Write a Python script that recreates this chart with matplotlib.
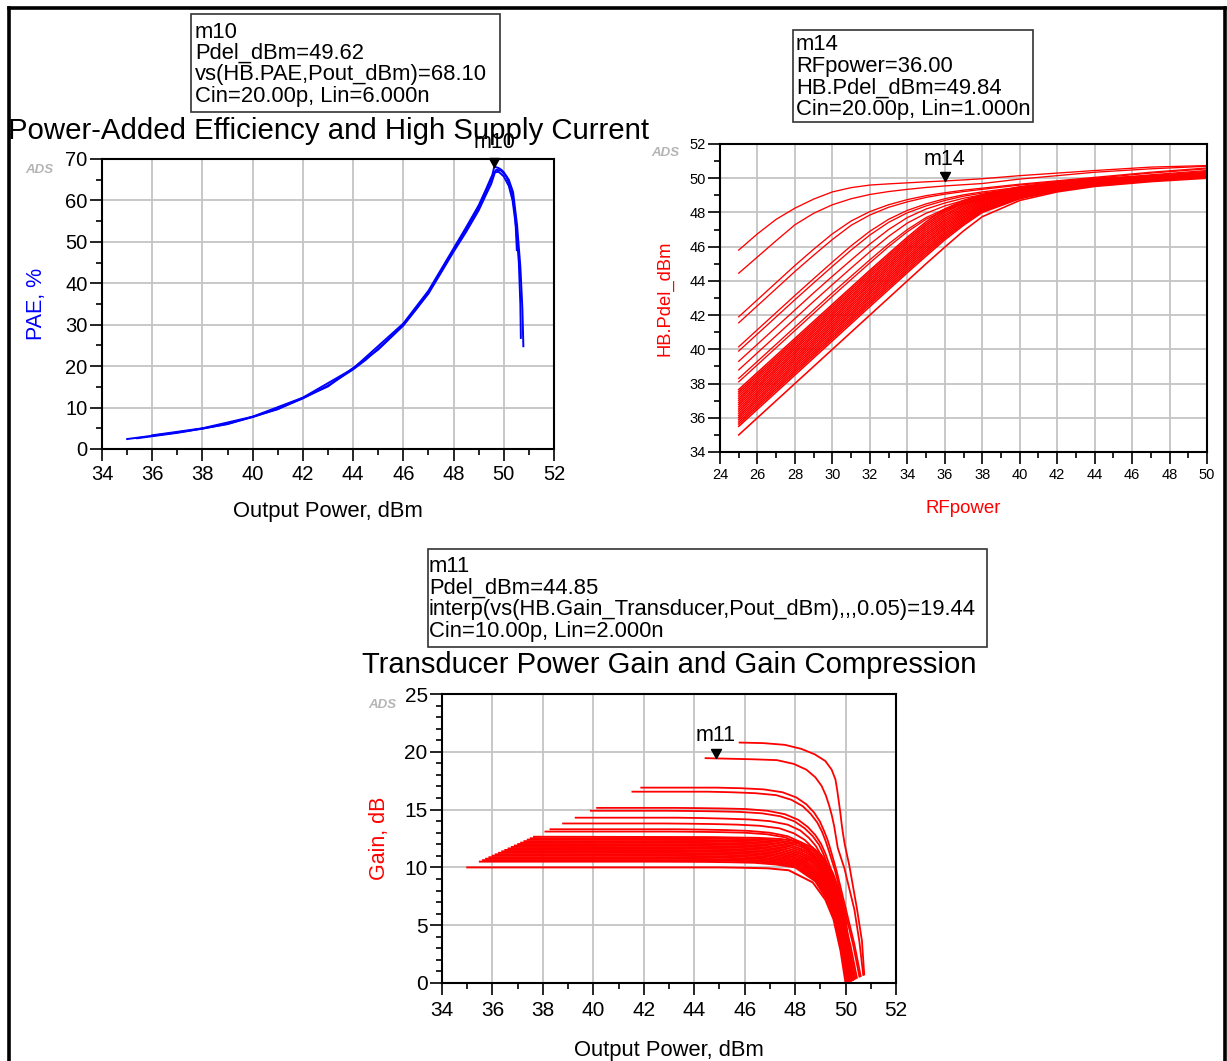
import matplotlib
matplotlib.use("Agg")
import matplotlib.pyplot as plt
from matplotlib.lines import Line2D
from matplotlib.patches import Rectangle
from matplotlib.ticker import MultipleLocator

plt.rcParams['font.family'] = ['Liberation Sans', 'DejaVu Sans']

W, H, DPI = 1227, 1061, 100

# ---------------- PAE vs output power (overlapping sweeps) ----------------
pae_pout_a = [35.0, 36.0, 37.0, 38.0, 39.0, 40.0, 41.0, 42.0, 43.0, 44.0, 44.5, 45.0, 45.5, 46.0,
              46.5, 47.0, 47.5, 48.0, 48.25, 48.5, 48.75, 49.0, 49.3, 49.5, 49.62, 49.7, 49.8,
              49.9, 50.0, 50.2, 50.37, 50.53, 50.66, 50.74, 50.78]
pae_a = [2.4, 3.2, 4.0, 4.9, 6.1, 7.7, 9.7, 12.2, 15.3, 19.2, 21.5, 24.2, 27.0, 30.0,
         33.7, 37.8, 42.8, 48.0, 50.5, 53.0, 55.7, 58.3, 62.3, 65.0, 68.1, 68.0, 67.8,
         67.4, 66.8, 65.0, 62.0, 54.0, 44.0, 34.0, 24.8]

pae_pout_b = [35.4, 37.0, 39.0, 41.0, 43.0, 45.0, 46.0, 47.0, 48.0, 48.5, 49.0, 49.3, 49.5,
              49.65, 49.8, 50.0, 50.2, 50.35, 50.5, 50.6, 50.66, 50.68]
pae_b = [2.6, 3.9, 6.0, 9.6, 15.1, 24.0, 29.8, 37.5, 47.6, 52.4, 57.6, 61.5, 64.0,
         66.8, 66.9, 65.8, 63.5, 60.0, 53.0, 45.0, 35.0, 26.8]

pae_pout_c = [36.0, 38.0, 40.0, 42.0, 44.0, 46.0, 47.0, 48.0, 48.5, 49.0, 49.3, 49.5, 49.7,
              49.9, 50.1, 50.3, 50.45, 50.52]
pae_c = [3.3, 5.0, 7.8, 12.4, 19.4, 30.3, 38.2, 48.4, 53.5, 58.8, 62.8, 65.6, 67.4,
         67.2, 65.8, 62.8, 57.0, 48.0]

# ---------------- Delivered power vs RF input power ----------------
rf_upper = [25, 26, 27, 28, 29, 30, 31, 32, 33, 34, 35, 36, 37, 38, 40, 42, 44, 47, 50]
pdel_upper = [
    [45.80, 46.75, 47.60, 48.25, 48.78, 49.20, 49.45, 49.60, 49.67, 49.73, 49.79, 49.84, 49.90, 49.97, 50.15, 50.30, 50.45, 50.65, 50.74],
    [44.45, 45.40, 46.35, 47.28, 47.95, 48.45, 48.80, 49.05, 49.22, 49.35, 49.46, 49.55, 49.62, 49.69, 49.95, 50.15, 50.35, 50.55, 50.70],
    [41.90, 42.90, 43.90, 44.90, 45.85, 46.75, 47.50, 48.05, 48.45, 48.75, 48.98, 49.15, 49.30, 49.42, 49.65, 49.85, 50.05, 50.35, 50.60],
    [41.55, 42.55, 43.55, 44.55, 45.50, 46.42, 47.25, 47.85, 48.30, 48.62, 48.88, 49.07, 49.22, 49.35, 49.60, 49.80, 50.00, 50.30, 50.55],
    [40.15, 41.15, 42.15, 43.15, 44.13, 45.10, 46.05, 46.90, 47.60, 48.12, 48.50, 48.80, 49.03, 49.20, 49.48, 49.70, 49.90, 50.20, 50.45],
    [39.90, 40.90, 41.90, 42.90, 43.88, 44.85, 45.80, 46.68, 47.42, 47.98, 48.38, 48.70, 48.95, 49.13, 49.42, 49.65, 49.85, 50.15, 50.40],
    [39.30, 40.30, 41.30, 42.30, 43.30, 44.27, 45.22, 46.15, 47.00, 47.70, 48.20, 48.55, 48.83, 49.03, 49.35, 49.60, 49.80, 50.10, 50.35],
    [38.80, 39.80, 40.80, 41.80, 42.80, 43.78, 44.75, 45.70, 46.60, 47.38, 47.95, 48.38, 48.70, 48.93, 49.28, 49.55, 49.77, 50.07, 50.33],
    [38.30, 39.30, 40.30, 41.30, 42.30, 43.30, 44.27, 45.23, 46.16, 47.00, 47.70, 48.20, 48.57, 48.83, 49.22, 49.50, 49.73, 50.03, 50.30],
    [38.10, 39.10, 40.10, 41.10, 42.10, 43.10, 44.08, 45.05, 46.00, 46.87, 47.60, 48.12, 48.50, 48.78, 49.18, 49.47, 49.70, 50.00, 50.28],
]

rf_band = [25, 32, 34, 35, 36, 37, 38, 40, 42, 44, 47, 50]
pdel_band = [
    [37.65, 44.62, 46.55, 47.45, 48.20, 48.70, 49.05, 49.50, 49.78, 49.97, 50.15, 50.30],
    [37.52, 44.50, 46.43, 47.33, 48.09, 48.62, 48.99, 49.46, 49.75, 49.95, 50.13, 50.29],
    [37.40, 44.37, 46.31, 47.22, 47.99, 48.53, 48.93, 49.42, 49.72, 49.92, 50.11, 50.27],
    [37.27, 44.25, 46.19, 47.10, 47.88, 48.44, 48.86, 49.38, 49.69, 49.90, 50.10, 50.26],
    [37.14, 44.12, 46.06, 46.98, 47.78, 48.36, 48.80, 49.34, 49.66, 49.87, 50.08, 50.24],
    [37.02, 44.00, 45.94, 46.86, 47.67, 48.27, 48.74, 49.29, 49.62, 49.85, 50.06, 50.23],
    [36.89, 43.87, 45.82, 46.74, 47.56, 48.19, 48.68, 49.25, 49.59, 49.82, 50.04, 50.21],
    [36.77, 43.75, 45.70, 46.63, 47.46, 48.10, 48.62, 49.21, 49.56, 49.80, 50.03, 50.20],
    [36.64, 43.62, 45.58, 46.51, 47.35, 48.02, 48.56, 49.17, 49.53, 49.77, 50.01, 50.18],
    [36.51, 43.50, 45.45, 46.39, 47.25, 47.93, 48.49, 49.13, 49.50, 49.75, 49.99, 50.17],
    [36.39, 43.37, 45.33, 46.27, 47.14, 47.85, 48.43, 49.09, 49.47, 49.72, 49.97, 50.15],
    [36.26, 43.25, 45.21, 46.16, 47.04, 47.76, 48.37, 49.05, 49.44, 49.70, 49.96, 50.14],
    [36.13, 43.12, 45.09, 46.04, 46.93, 47.68, 48.31, 49.01, 49.41, 49.67, 49.94, 50.12],
    [36.01, 43.00, 44.97, 45.92, 46.82, 47.59, 48.25, 48.97, 49.38, 49.65, 49.92, 50.11],
    [35.88, 42.87, 44.85, 45.80, 46.72, 47.51, 48.19, 48.92, 49.34, 49.62, 49.90, 50.09],
    [35.75, 42.75, 44.72, 45.69, 46.61, 47.42, 48.12, 48.88, 49.31, 49.60, 49.89, 50.08],
    [35.63, 42.63, 44.60, 45.57, 46.51, 47.34, 48.06, 48.84, 49.28, 49.57, 49.87, 50.06],
    [35.50, 42.50, 44.48, 45.45, 46.40, 47.25, 48.00, 48.80, 49.25, 49.55, 49.85, 50.05],
    [35.00, 42.00, 44.00, 45.00, 45.97, 46.92, 47.75, 48.70, 49.20, 49.52, 49.80, 50.00],
]

# marker readouts
m10_pout, m10_pae = 49.62, 68.10
m14_rf, m14_pdel = 36.00, 49.84
m11_pout, m11_gain = 44.85, 19.44

pae_xticks = [34, 36, 38, 40, 42, 44, 46, 48, 50, 52]
pae_yticks = [0, 10, 20, 30, 40, 50, 60, 70]
rf_xticks = [24, 26, 28, 30, 32, 34, 36, 38, 40, 42, 44, 46, 48, 50]
pdel_yticks = [34, 36, 38, 40, 42, 44, 46, 48, 50, 52]
gain_xticks = [34, 36, 38, 40, 42, 44, 46, 48, 50, 52]
gain_yticks = [0, 5, 10, 15, 20, 25]

RED = '#ff0000'
BLUE = '#0000ff'
GRID = '#c4c4c4'
ANN_FS = 15.8


def fx(px):
    return px / W


def fy(py):
    return 1.0 - py / H


def make_axes(fig, x0, y0, x1, y1):
    return fig.add_axes([fx(x0), fy(y1), (x1 - x0) / W, (y1 - y0) / H])


def style_axes(ax, xlim, ylim, xticks, yticks, xminor, yminor, fs, xpad, ypad):
    ax.set_xlim(*xlim)
    ax.set_ylim(*ylim)
    ax.set_xticks(xticks)
    ax.set_yticks(yticks)
    ax.xaxis.set_minor_locator(MultipleLocator(xminor))
    ax.yaxis.set_minor_locator(MultipleLocator(yminor))
    ax.grid(True, which='major', color=GRID, lw=1.3)
    ax.set_axisbelow(True)
    for s in ax.spines.values():
        s.set_color('black')
        s.set_linewidth(1.5)
        s.set_zorder(4)
    ax.tick_params(which='major', direction='out', length=8.8, width=1.2,
                   labelsize=fs, top=False, right=False)
    ax.tick_params(which='minor', direction='out', length=4.6, width=1.2,
                   top=False, right=False)
    ax.tick_params(axis='x', which='major', pad=xpad)
    ax.tick_params(axis='y', which='major', pad=ypad)


TRI = [(-0.55, 1.0), (0.55, 1.0), (0.0, 0.0), (-0.55, 1.0)]


def marker(ax, x, y, name, dy):
    ax.plot([x], [y], marker=TRI, ms=13, color='black', clip_on=False, zorder=6)
    ax.annotate(name, (x, y), xytext=(0, dy), textcoords='offset points',
                ha='center', va='center', fontsize=15.5, zorder=6,
                annotation_clip=False)


def readout(fig, x0, y0, x1, y1, tx, lines, ys):
    fig.add_artist(Rectangle((fx(x0), fy(y1)), (x1 - x0) / W, (y1 - y0) / H,
                             transform=fig.transFigure, fill=False,
                             edgecolor='#333333', lw=1.2))
    for t, yy in zip(lines, ys):
        fig.text(fx(tx), fy(yy), t, ha='left', va='center', fontsize=ANN_FS)


fig = plt.figure(figsize=(W / DPI, H / DPI), dpi=DPI)
fig.patch.set_facecolor('white')

# ---------------- PAE panel ----------------
ax1 = make_axes(fig, 102, 159, 554, 449)
style_axes(ax1, (34, 52), (0, 70), pae_xticks, pae_yticks, 1, 5, 14.5, 3.0, 1.5)
for xs, ys in ((pae_pout_b, pae_b), (pae_pout_c, pae_c), (pae_pout_a, pae_a)):
    ax1.plot(xs, ys, color=BLUE, lw=1.4, zorder=3, solid_joinstyle='round')
ax1.set_xlabel('Output Power, dBm', fontsize=15.8)
ax1.xaxis.set_label_coords(0.5, -0.217)
ax1.xaxis.label.set_va('center')
ax1.set_ylabel('PAE, %', fontsize=15.5, color=BLUE)
ax1.yaxis.set_label_coords(-0.146, 0.5)
ax1.yaxis.label.set_va('center')
marker(ax1, m10_pout, m10_pae, 'm10', 17.3)

# ---------------- Pdel panel ----------------
ax2 = make_axes(fig, 720, 144, 1207, 452)
style_axes(ax2, (24, 50), (34, 52), rf_xticks, pdel_yticks, 1, 1, 10.5, 2.5, 1.5)
for row in pdel_band:
    ax2.plot(rf_band, row, color=RED, lw=1.15, zorder=3)
for row in pdel_upper:
    ax2.plot(rf_upper, row, color=RED, lw=0.95, zorder=3)
ax2.set_xlabel('RFpower', fontsize=13.4, color=RED)
ax2.xaxis.set_label_coords(0.5, -0.182)
ax2.xaxis.label.set_va('center')
ax2.set_ylabel('HB.Pdel_dBm', fontsize=13.2, color=RED)
ax2.yaxis.set_label_coords(-0.114, 0.5)
ax2.yaxis.label.set_va('center')
marker(ax2, m14_rf, m14_pdel, 'm14', 15.8)

# ---------------- Gain panel (gain = Pdel - RFpower vs Pdel) ----------------
ax3 = make_axes(fig, 442, 694, 896, 983)
style_axes(ax3, (34, 52), (0, 25), gain_xticks, gain_yticks, 1, 1, 15, 4.5, 1.5)
for row in pdel_band:
    ax3.plot(row, [p - r for p, r in zip(row, rf_band)], color=RED, lw=1.4, zorder=3)
for row in pdel_upper:
    ax3.plot(row, [p - r for p, r in zip(row, rf_upper)], color=RED, lw=1.3, zorder=3)
ax3.set_xlabel('Output Power, dBm', fontsize=15.8)
ax3.xaxis.set_label_coords(0.5, -0.232)
ax3.xaxis.label.set_va('center')
ax3.set_ylabel('Gain, dB', fontsize=15.5, color=RED)
ax3.yaxis.set_label_coords(-0.1366, 0.5)
ax3.yaxis.label.set_va('center')
marker(ax3, m11_pout, m11_gain, 'm11', 16.3)

# ---------------- titles, readout boxes, watermarks ----------------
fig.text(fx(329), fy(131), 'Power-Added Efficiency and High Supply Current',
         ha='center', va='center', fontsize=21.2)
fig.text(fx(669.5), fy(665), 'Transducer Power Gain and Gain Compression',
         ha='center', va='center', fontsize=21.1)

readout(fig, 191, 14, 500, 112, 195,
        ['m10', 'Pdel_dBm=%.2f' % m10_pout,
         'vs(HB.PAE,Pout_dBm)=%.2f' % m10_pae, 'Cin=20.00p, Lin=6.000n'],
        [32, 53, 74.5, 96.5])
readout(fig, 793, 30, 1033, 122, 796,
        ['m14', 'RFpower=%.2f' % m14_rf, 'HB.Pdel_dBm=%.2f' % m14_pdel,
         'Cin=20.00p, Lin=1.000n'],
        [45, 66.5, 88, 109.5])
readout(fig, 428, 549, 987, 647, 429,
        ['m11', 'Pdel_dBm=%.2f' % m11_pout,
         'interp(vs(HB.Gain_Transducer,Pout_dBm),,,0.05)=%.2f' % m11_gain,
         'Cin=10.00p, Lin=2.000n'],
        [567, 588, 610, 631])

for (wx, wy) in ((39, 170), (665, 153), (382, 705)):
    fig.text(fx(wx), fy(wy), 'ADS', ha='center', va='center', fontsize=9.5,
             fontweight='bold', style='italic', color='#b4b4b4')

# page frame
for xs, ys in (((9, 9), (8, H)), ((9, 1225), (8, 8)), ((1225, 1225), (8, H))):
    fig.add_artist(Line2D([fx(x) for x in xs], [fy(y) for y in ys],
                          transform=fig.transFigure, color='black', lw=2.6))

fig.savefig('out.png', dpi=DPI)
